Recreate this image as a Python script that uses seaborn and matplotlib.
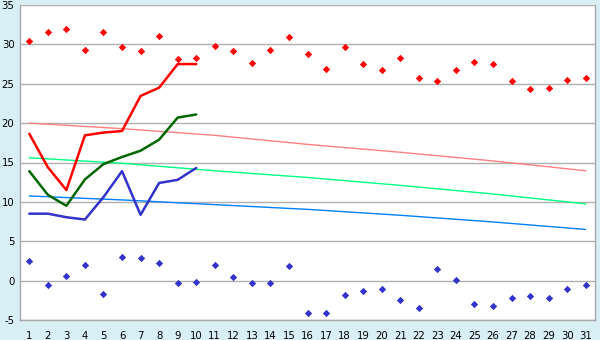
import matplotlib
matplotlib.use("Agg")
import matplotlib.pyplot as plt
import seaborn as sns
import pandas as pd

days = list(range(1, 32))

max_temp = [30.4, 31.6, 32.0, 29.3, 31.6, 29.7, 29.1, 31.1, 28.2, 28.3,
            29.85, 29.2, 27.6, 29.3, 31.0, 28.8, 26.9, 29.7, 27.5, 26.7,
            28.3, 25.7, 25.4, 26.8, 27.7, 27.5, 25.3, 24.3, 24.5, 25.5, 25.7]
min_temp = [2.5, -0.55, 0.6, 2.0, -1.7, 3.0, 2.9, 2.25, -0.3, -0.17,
            2.0, 0.47, -0.3, -0.3, 1.87, -4.1, -4.1, -1.8, -1.3, -1.06,
            -2.45, -3.5, 1.5, 0.1, -3.0, -3.2, -2.2, -1.95, -2.2, -1.06, -0.55]

cur_days = list(range(1, 11))
cur_max = [18.65, 14.4, 11.5, 18.45, 18.8, 19.0, 23.45, 24.5, 27.5, 27.5]
cur_mean = [13.9, 10.9, 9.5, 12.85, 14.8, 15.7, 16.5, 17.9, 20.7, 21.1]
cur_min = [8.5, 8.5, 8.05, 7.76, 10.6, 13.9, 8.36, 12.4, 12.8, 14.3]

norm_days = [1, 6, 11, 16, 21, 26, 31]
norm_max = [20.0, 19.3, 18.45, 17.3, 16.3, 15.2, 13.95]
norm_mean = [15.6, 14.9, 13.95, 13.1, 12.1, 11.0, 9.75]
norm_min = [10.75, 10.25, 9.65, 9.05, 8.3, 7.45, 6.5]

y_ticks = [-5, 0, 5, 10, 15, 20, 25, 30, 35]

sns.set_style("white")
plt.rcParams['font.family'] = ['DejaVu Sans']

fig = plt.figure(figsize=(6, 3.4), dpi=100, facecolor="#d9eff6")
ax = fig.add_axes([20/600, 1-320/340, 575/600, 315/340])
ax.set_facecolor("white")

norm_df = pd.DataFrame({"day": norm_days, "max": norm_max, "mean": norm_mean, "min": norm_min})
cur_df = pd.DataFrame({"day": cur_days, "max": cur_max, "mean": cur_mean, "min": cur_min})
ext_df = pd.DataFrame({"day": days, "max": max_temp, "min": min_temp})

sns.lineplot(data=norm_df, x="day", y="max", ax=ax, color="#ff8080", lw=1.0)
sns.lineplot(data=norm_df, x="day", y="mean", ax=ax, color="#00ff80", lw=1.0)
sns.lineplot(data=norm_df, x="day", y="min", ax=ax, color="#0080ff", lw=1.0)

sns.lineplot(data=cur_df, x="day", y="max", ax=ax, color="#ff0000", lw=1.8)
sns.lineplot(data=cur_df, x="day", y="mean", ax=ax, color="#006600", lw=1.8)
sns.lineplot(data=cur_df, x="day", y="min", ax=ax, color="#3333cc", lw=1.8)

sns.scatterplot(data=ext_df, x="day", y="max", ax=ax, color="#ff0000", marker="D", s=14, linewidth=0)
sns.scatterplot(data=ext_df, x="day", y="min", ax=ax, color="#3333cc", marker="D", s=14, linewidth=0)

ax.set_xlim(0.5, 31.5)
ax.set_ylim(-5, 35)
ax.set_xticks(days)
ax.set_xticklabels([str(d) for d in days])
ax.set_yticks(y_ticks)
ax.set_yticklabels([str(v) for v in y_ticks])
ax.set_xlabel("")
ax.set_ylabel("")
ax.yaxis.grid(True, color="#b0b0b0", lw=1.0)
ax.set_axisbelow(True)
for side in ["left", "bottom", "right"]:
    ax.spines[side].set_visible(True)
    ax.spines[side].set_color("#a8a8a8")
    ax.spines[side].set_linewidth(1.0)
ax.spines["top"].set_visible(False)
ax.tick_params(axis="both", which="both", direction="out", width=1,
               color="#404040", labelsize=7.3, labelcolor="black")
ax.tick_params(axis="y", length=3, pad=1)
ax.tick_params(axis="x", length=5, pad=3)

fig.savefig("out.png", dpi=100, facecolor=fig.get_facecolor())
